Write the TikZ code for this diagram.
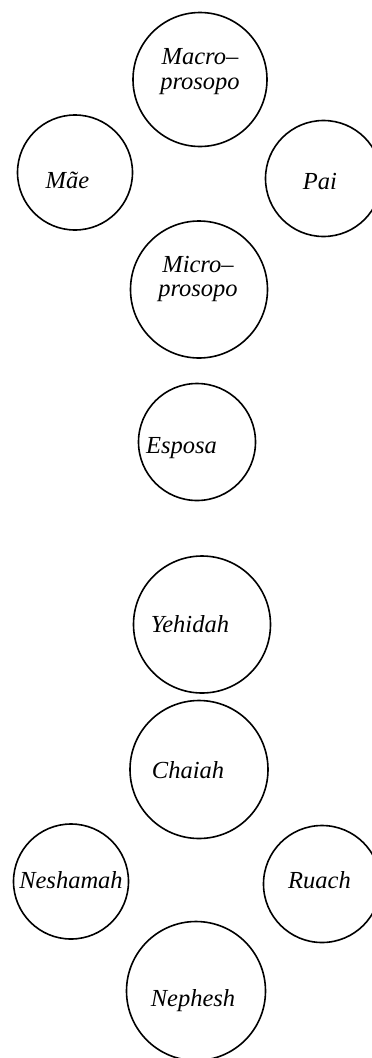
\documentclass[tikz,border=0pt]{standalone}
\usepackage{fontspec}
\setmainfont{Liberation Serif}
\begin{document}
\begin{tikzpicture}[x=1pt, y=-1pt, soul/.style={draw, circle, line width=1.6pt, inner sep=0pt}, word/.style={font=\fontsize{24.5}{24.5}\selectfont\itshape, inner sep=0pt, align=center}]
\useasboundingbox (0,0) rectangle (372,1058);
\node[soul, minimum size=134pt] (macro) at (200,79.5) {};
\node[soul, minimum size=115pt] (mae) at (75,172.5) {};
\node[soul, minimum size=116pt] (pai) at (323.5,178.5) {};
\node[soul, minimum size=137pt] (micro) at (199,289.5) {};
\node[soul, minimum size=117pt] (esposa) at (197,442) {};
\node[soul, minimum size=137pt] (yehidah) at (202,624.5) {};
\node[soul, minimum size=138pt] (chaiah) at (199,769.5) {};
\node[soul, minimum size=115pt] (neshamah) at (71,881.5) {};
\node[soul, minimum size=117pt] (ruach) at (322,884) {};
\node[soul, minimum size=139pt] (nephesh) at (196,991) {};
\node[word] (macro-t) at (200,71.5) {Macro--\\prosopo};
\node[word, anchor=base] (mae-t) at (67.5,188) {Mãe};
\node[word, anchor=base] (pai-t) at (320,189) {Pai};
\node[word] (micro-t) at (198,279) {Micro--\\prosopo};
\node[word, anchor=base] (esposa-t) at (181.5,453) {Esposa};
\node[word, anchor=base] (yehidah-t) at (190,632) {Yehidah};
\node[word, anchor=base] (chaiah-t) at (188,778) {Chaiah};
\node[word, anchor=base] (neshamah-t) at (71,888) {Neshamah};
\node[word, anchor=base] (ruach-t) at (319.5,888) {Ruach};
\node[word, anchor=base] (nephesh-t) at (193,1006) {Nephesh};
\end{tikzpicture}
\end{document}
